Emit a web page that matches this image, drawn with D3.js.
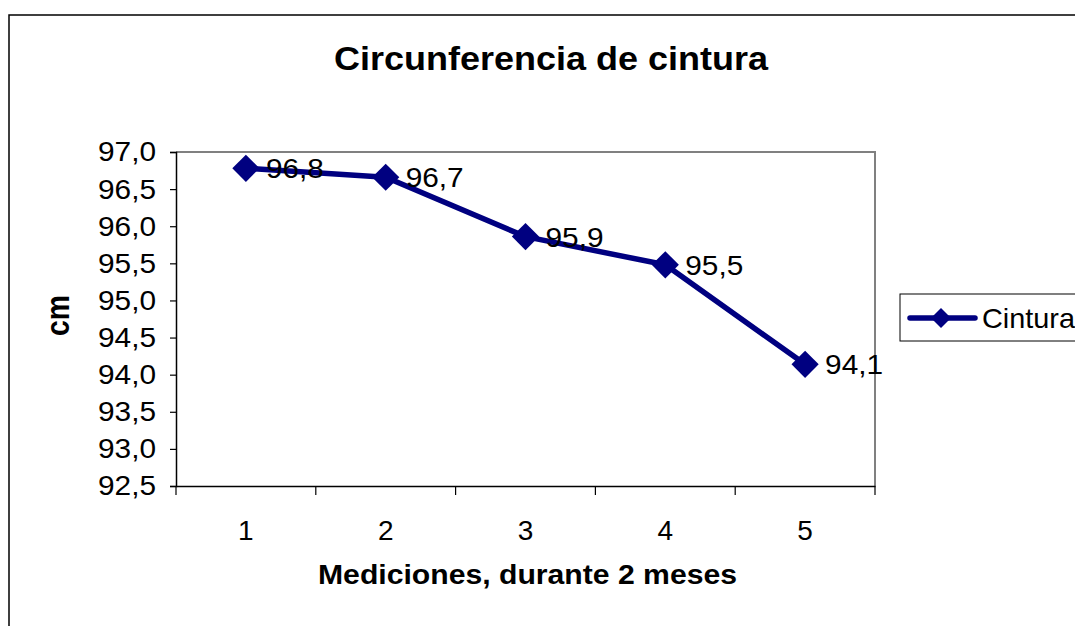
<!DOCTYPE html>
<html><head><meta charset="utf-8">
<script src="https://cdn.jsdelivr.net/npm/d3@7"></script>
<style>body{margin:0;background:#fff}svg{display:block;font-family:Arial,"Liberation Sans",sans-serif}</style>
</head><body>
<svg id="c" width="1075" height="626"></svg>
<script>
const categories = ["1","2","3","4","5"];
const cintura = [96.78, 96.66, 95.86, 95.48, 94.14];
const yTicks = [92.5,93.0,93.5,94.0,94.5,95.0,95.5,96.0,96.5,97.0];
const title = "Circunferencia de cintura";
const xTitle = "Mediciones, durante 2 meses";
const yTitle = "cm";
const seriesName = "Cintura";

const svg = d3.select("#c");
const L=176, R=875, T=152, B=486;
const navy = "#000080";
const FF = "Arial, 'Liberation Sans', sans-serif";
const fmt = v => v.toFixed(1).replace(".", ",");

svg.append("rect").attr("x",9).attr("y",15).attr("width",1100).attr("height",700)
  .attr("fill","none").attr("stroke","#000").attr("stroke-width",1.5);

const x = d3.scaleBand().domain(categories).range([L,R]);
const y = d3.scaleLinear().domain([92.5,97.0]).range([B,T]);

// plot area border (gray top/right)
svg.append("path").attr("d",`M${L},${T}H${R}V${B}`).attr("fill","none").attr("stroke","#808080").attr("stroke-width",2);

// y axis
const ya = svg.append("g").attr("transform",`translate(${L},0)`)
  .call(d3.axisLeft(y).tickValues(yTicks).tickFormat(fmt).tickSize(6).tickPadding(14));
ya.select(".domain").attr("stroke","#000").attr("stroke-width",1.5);
ya.selectAll(".tick line").attr("stroke","#000").attr("stroke-width",1.2);
ya.selectAll("text").attr("font-size",28).attr("fill","#000").attr("font-family",FF)
  .attr("textLength",58).attr("lengthAdjust","spacingAndGlyphs");

// x axis
const xa = svg.append("g").attr("transform",`translate(0,${B})`)
  .call(d3.axisBottom(x).tickSize(0).tickPadding(34));
xa.select(".domain").attr("stroke","#000").attr("stroke-width",1.5);
xa.selectAll("text").attr("font-size",28).attr("fill","#000").attr("font-family",FF);
const bounds = categories.map(c=>x(c)).concat([R]);
svg.append("g").selectAll("line").data(bounds).join("line")
  .attr("x1",d=>d).attr("x2",d=>d).attr("y1",B).attr("y2",B+9)
  .attr("stroke","#000").attr("stroke-width",1.2);

// line
const cx = (d,i)=>x(categories[i])+x.bandwidth()/2;
svg.append("path").datum(cintura)
  .attr("d", d3.line().x(cx).y(d=>y(d)))
  .attr("fill","none").attr("stroke",navy).attr("stroke-width",5.5).attr("stroke-linejoin","round");
svg.append("g").selectAll("path").data(cintura).join("path")
  .attr("d", d3.symbol().type(d3.symbolSquare).size(370))
  .attr("transform",(d,i)=>`translate(${cx(d,i)},${y(d)}) rotate(45)`)
  .attr("fill",navy);
svg.append("g").selectAll("text").data(cintura).join("text")
  .attr("x",(d,i)=>cx(d,i)+20).attr("y",d=>y(d)).attr("dy","0.36em")
  .attr("font-size",28).attr("fill","#000")
  .attr("textLength",58).attr("lengthAdjust","spacingAndGlyphs").text(fmt);

// titles
svg.append("text").attr("x",334).attr("y",70)
  .attr("font-size",33).attr("font-weight","bold")
  .attr("textLength",434).attr("lengthAdjust","spacingAndGlyphs").text(title);
svg.append("text").attr("x",318).attr("y",584)
  .attr("font-size",27).attr("font-weight","bold")
  .attr("textLength",419).attr("lengthAdjust","spacingAndGlyphs").text(xTitle);
svg.append("text").attr("transform","translate(69,336) rotate(-90)")
  .attr("font-size",33).attr("font-weight","bold")
  .attr("textLength",41).attr("lengthAdjust","spacingAndGlyphs").text(yTitle);

// legend
svg.append("rect").attr("x",900).attr("y",294).attr("width",200).attr("height",47)
  .attr("fill","none").attr("stroke","#000").attr("stroke-width",1);
svg.append("line").attr("x1",910).attr("x2",975).attr("y1",318).attr("y2",318)
  .attr("stroke",navy).attr("stroke-width",5.5).attr("stroke-linecap","round");
svg.append("path").attr("d", d3.symbol().type(d3.symbolSquare).size(200))
  .attr("transform","translate(941,318) rotate(45)").attr("fill",navy);
svg.append("text").attr("x",982).attr("y",318).attr("dy","0.36em").attr("font-size",28)
  .attr("textLength",93).attr("lengthAdjust","spacingAndGlyphs").text(seriesName);
</script>
</body></html>
